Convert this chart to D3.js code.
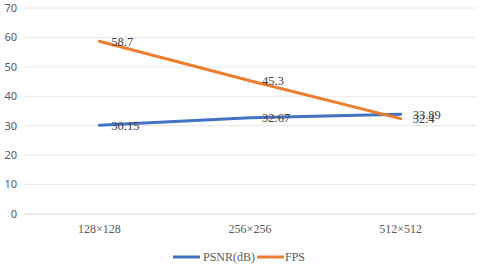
<!DOCTYPE html>
<html>
    <head>
        <script src="https://d3js.org/d3.v7.min.js"></script>
        <style>
            body { margin: 0; background-color: #ffffff; }
        </style>
    </head>
    <body>
        <div id="chart"></div>
        <script>
            const categories = ["128×128", "256×256", "512×512"];
            const psnr = [30.15, 32.67, 33.89];
            const fps = [58.7, 45.3, 32.4];
            const psnrLabels = ["30.15", "32.67", "33.89"];
            const fpsLabels = ["58.7", "45.3", "32.4"];
            const yTicks = [0, 10, 20, 30, 40, 50, 60, 70];
            const seriesNames = ["PSNR(dB)", "FPS"];

            const width = 480, height = 268;
            const svg = d3.select("#chart").append("svg")
                .attr("width", width).attr("height", height);

            const x = d3.scaleBand().domain(categories).range([24, 476]);
            const y = d3.scaleLinear().domain([0, 70]).range([214, 8]);

            // gridlines
            svg.append("g").selectAll("line").data(yTicks).join("line")
                .attr("x1", 24).attr("x2", 476)
                .attr("y1", d => y(d)).attr("y2", d => y(d))
                .attr("stroke", d => d === 0 ? "#d9d9d9" : "#e8e8e8")
                .attr("stroke-width", 1);

            svg.append("g").selectAll("text").data(yTicks).join("text")
                .attr("x", 17).attr("y", d => y(d))
                .attr("dy", "0.35em")
                .attr("text-anchor", "end")
                .attr("font-family", "Noto Sans, sans-serif")
                .attr("font-size", 11)
                .attr("fill", "#595959")
                .text(d => d);

            svg.append("g").selectAll("text").data(categories).join("text")
                .attr("x", d => x(d) + x.bandwidth() / 2).attr("y", 233)
                .attr("text-anchor", "middle")
                .attr("font-family", "Liberation Serif, serif")
                .attr("font-size", 12)
                .attr("fill", "#595959")
                .text(d => d);

            const cx = d => x(d) + x.bandwidth() / 2;
            const series = [
                { name: seriesNames[0], values: psnr, labels: psnrLabels, color: "#4472C4" },
                { name: seriesNames[1], values: fps, labels: fpsLabels, color: "#ED7D31" }
            ];

            const line = d3.line().x(d => cx(d.cat)).y(d => y(d.v));

            series.forEach(s => {
                const pts = categories.map((c, i) => ({ cat: c, v: s.values[i], label: s.labels[i] }));
                svg.append("path").datum(pts)
                    .attr("d", line)
                    .attr("fill", "none")
                    .attr("stroke", s.color)
                    .attr("stroke-width", 3)
                    .attr("stroke-linecap", "round");
            });

            series.forEach(s => {
                const pts = categories.map((c, i) => ({ cat: c, v: s.values[i], label: s.labels[i] }));
                svg.append("g").selectAll("text").data(pts).join("text")
                    .attr("x", d => cx(d.cat) + 12).attr("y", d => y(d.v))
                    .attr("dy", "0.35em")
                    .attr("font-family", "Liberation Serif, serif")
                    .attr("font-size", 12.5)
                    .attr("fill", "#404040")
                    .text(d => d.label);
            });

            // legend
            const legend = svg.append("g").attr("transform", "translate(0,257)");
            const legendPos = [{ lx: 173, tx: 203 }, { lx: 257, tx: 285 }];
            series.forEach((s, i) => {
                legend.append("line")
                    .attr("x1", legendPos[i].lx).attr("x2", legendPos[i].lx + 27)
                    .attr("y1", 0).attr("y2", 0)
                    .attr("stroke", s.color).attr("stroke-width", 3);
                legend.append("text")
                    .attr("x", legendPos[i].tx).attr("y", 0)
                    .attr("dy", "0.35em")
                    .attr("font-family", "Liberation Serif, serif")
                    .attr("font-size", 12)
                    .attr("fill", "#595959")
                    .text(s.name);
            });
        </script>
    </body>
</html>
